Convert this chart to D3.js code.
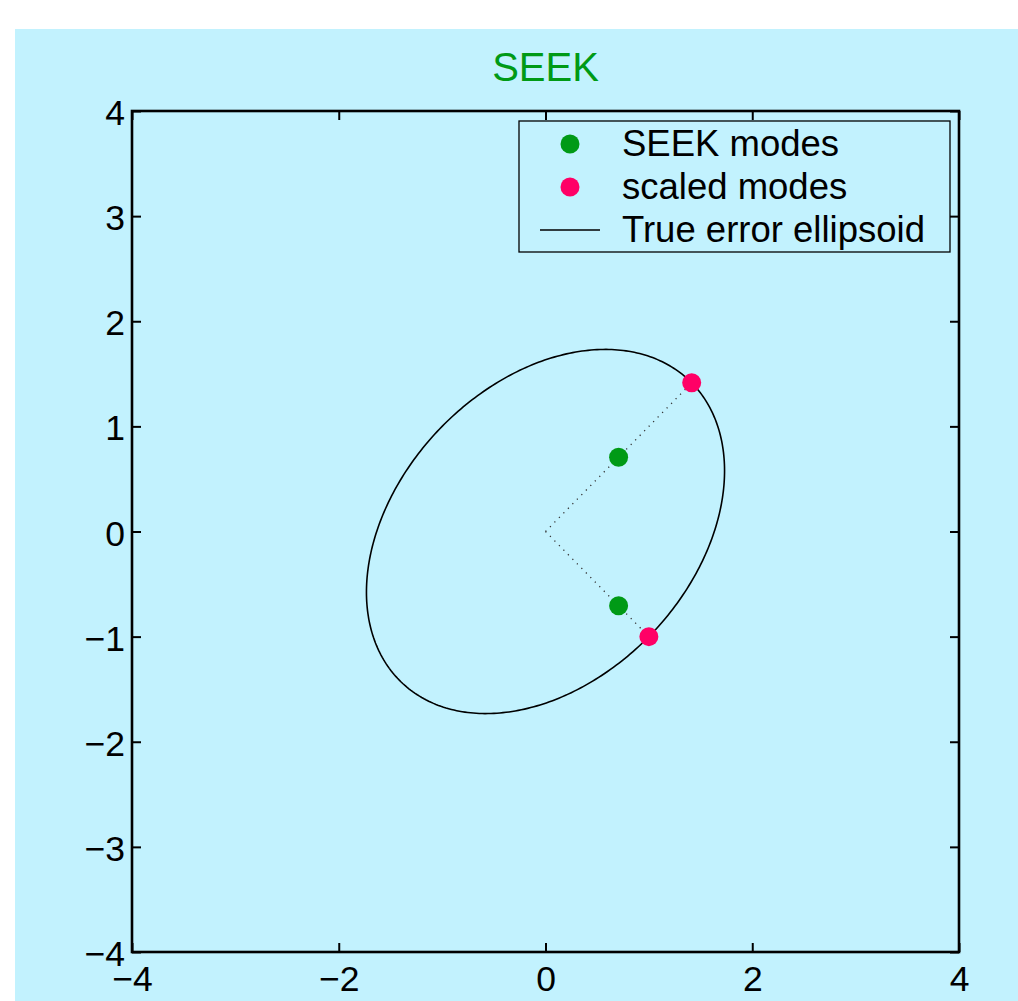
<!DOCTYPE html>
<html>
<head>
<meta charset="utf-8">
<script src="https://cdn.jsdelivr.net/npm/d3@7"></script>
<style>
  html, body { margin: 0; padding: 0; background: #ffffff; }
  svg { display: block; }
  text { font-family: "Liberation Sans", Arial, Helvetica, sans-serif; }
</style>
</head>
<body>
<svg id="chart" width="1018" height="1001"></svg>
<script>
// Mode vectors of the SEEK filter (unit length) and the same modes scaled
// to the boundary of the true error ellipsoid.
const seekModesX = [0.7071, 0.7071];
const seekModesY = [0.7071, -0.7071];
const scaledModesX = [1.4142, 1.0];
const scaledModesY = [1.4142, -1.0];

const xTicks = [-4, -2, 0, 2, 4];
const yTicks = [-4, -3, -2, -1, 0, 1, 2, 3, 4];
const axisDomain = [-4, 4];

const legendLabels = ["SEEK modes", "scaled modes", "True error ellipsoid"];
const titleText = "SEEK";

const bg = "#c2f2fe";
const green = "#009a16";
const pink = "#ff0066";
const fontSize = 35.5;

const svg = d3.select("#chart");

// panel background
svg.append("rect")
  .attr("x", 15).attr("y", 29)
  .attr("width", 1018 - 15).attr("height", 1001 - 29)
  .attr("fill", bg);

const plot = { left: 132, right: 959, top: 111, bottom: 952 };

const x = d3.scaleLinear().domain(axisDomain).range([plot.left, plot.right]);
const y = d3.scaleLinear().domain(axisDomain).range([plot.bottom, plot.top]);

// title
svg.append("text")
  .attr("x", x(0)).attr("y", 81)
  .attr("text-anchor", "middle")
  .attr("font-size", 40)
  .attr("fill", green)
  .text(titleText);

// error ellipse: spanned by the two scaled modes, p(t) = m1 cos t + m2 sin t
const m1 = [scaledModesX[0], scaledModesY[0]];
const m2 = [scaledModesX[1], scaledModesY[1]];
const tSteps = d3.range(0, 2 * Math.PI, Math.PI / 180);
const ellipsePts = tSteps.map(t => [
  m1[0] * Math.cos(t) + m2[0] * Math.sin(t),
  m1[1] * Math.cos(t) + m2[1] * Math.sin(t)
]);
const line = d3.line().x(d => x(d[0])).y(d => y(d[1])).curve(d3.curveLinearClosed);

svg.append("path")
  .attr("d", line(ellipsePts))
  .attr("fill", "none")
  .attr("stroke", "#000")
  .attr("stroke-width", 1.6);

// dotted rays from the origin through each mode
const rays = scaledModesX.map((sx, i) => [[0, 0], [sx, scaledModesY[i]]]);
const openLine = d3.line().x(d => x(d[0])).y(d => y(d[1]));
svg.append("g").selectAll("path")
  .data(rays)
  .join("path")
  .attr("d", openLine)
  .attr("fill", "none")
  .attr("stroke", "#333")
  .attr("stroke-width", 1.3)
  .attr("stroke-dasharray", "1.2,5.2");

// points
const r = 9.5;
svg.append("g").selectAll("circle")
  .data(seekModesX.map((v, i) => [v, seekModesY[i]]))
  .join("circle")
  .attr("cx", d => x(d[0])).attr("cy", d => y(d[1]))
  .attr("r", r).attr("fill", green);

svg.append("g").selectAll("circle")
  .data(scaledModesX.map((v, i) => [v, scaledModesY[i]]))
  .join("circle")
  .attr("cx", d => x(d[0])).attr("cy", d => y(d[1]))
  .attr("r", r).attr("fill", pink);

// axes with inward ticks
const tickLen = 9;
const fmt = d3.format("d");

const gB = svg.append("g")
  .attr("transform", `translate(0,${plot.bottom})`)
  .call(d3.axisBottom(x).tickValues(xTicks).tickFormat(fmt)
    .tickSizeInner(-tickLen).tickSizeOuter(0).tickPadding(15));

const gL = svg.append("g")
  .attr("transform", `translate(${plot.left},0)`)
  .call(d3.axisLeft(y).tickValues(yTicks).tickFormat(fmt)
    .tickSizeInner(-tickLen).tickSizeOuter(0).tickPadding(7));

const gT = svg.append("g")
  .attr("transform", `translate(0,${plot.top})`)
  .call(d3.axisTop(x).tickValues(xTicks).tickFormat("")
    .tickSizeInner(-tickLen).tickSizeOuter(0));

const gR = svg.append("g")
  .attr("transform", `translate(${plot.right},0)`)
  .call(d3.axisRight(y).tickValues(yTicks).tickFormat("")
    .tickSizeInner(-tickLen).tickSizeOuter(0));

[gB, gL, gT, gR].forEach(g => {
  g.select(".domain").remove();
  g.selectAll(".tick line").attr("stroke", "#000").attr("stroke-width", 2);
  g.selectAll(".tick text")
    .attr("fill", "#000")
    .attr("font-size", fontSize)
    .attr("font-family", "\"Liberation Sans\", Arial, Helvetica, sans-serif");
});
gL.selectAll(".tick text").attr("dy", "0.38em");
gB.selectAll(".tick text").attr("dy", "0.69em");

// plot frame
svg.append("rect")
  .attr("x", plot.left).attr("y", plot.top)
  .attr("width", plot.right - plot.left)
  .attr("height", plot.bottom - plot.top)
  .attr("fill", "none")
  .attr("stroke", "#000")
  .attr("stroke-width", 2.6);

// legend
const lg = svg.append("g");
lg.append("rect")
  .attr("x", 519).attr("y", 121)
  .attr("width", 950 - 519).attr("height", 252 - 121)
  .attr("fill", bg)
  .attr("stroke", "#000")
  .attr("stroke-width", 1.3);

const rowY = [144, 187, 230];
lg.append("circle").attr("cx", 570).attr("cy", rowY[0]).attr("r", r).attr("fill", green);
lg.append("circle").attr("cx", 570).attr("cy", rowY[1]).attr("r", r).attr("fill", pink);
lg.append("line")
  .attr("x1", 540).attr("x2", 600)
  .attr("y1", rowY[2]).attr("y2", rowY[2])
  .attr("stroke", "#000").attr("stroke-width", 1.6);

lg.selectAll("text.lbl")
  .data(legendLabels)
  .join("text")
  .attr("class", "lbl")
  .attr("x", 622)
  .attr("y", (d, i) => rowY[i] + 12)
  .attr("font-size", 36.5)
  .attr("fill", "#000")
  .text(d => d);
</script>
</body>
</html>
